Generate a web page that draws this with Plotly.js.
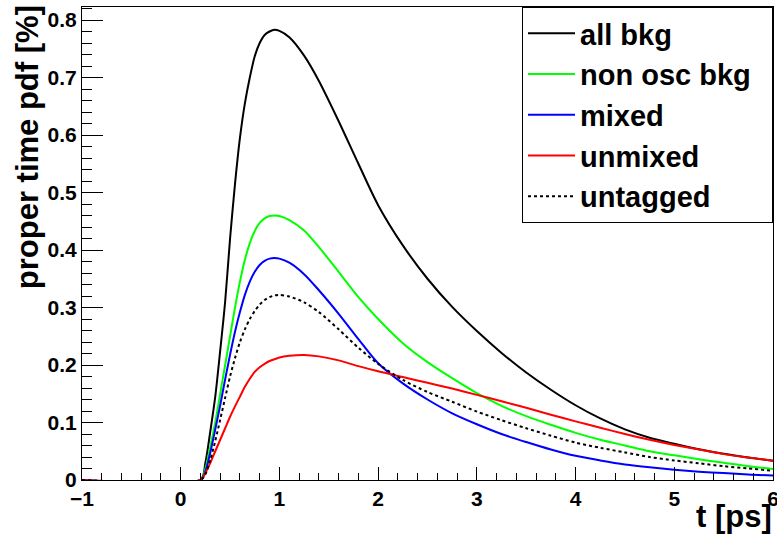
<!DOCTYPE html>
<html>
<head>
<meta charset="utf-8">
<script src="https://cdn.plot.ly/plotly-3.0.1.min.js"></script>
<style>html,body{margin:0;padding:0;background:#fff;}#chart{width:777px;height:537px;}</style>
</head>
<body>
<div id="chart"></div>
<script>
// proper time t [ps]
const tValues = [-1, 0.2, 0.25, 0.3, 0.35, 0.4, 0.45, 0.5, 0.55, 0.6, 0.65, 0.7, 0.75, 0.8, 0.85, 0.9, 0.95, 1.0, 1.1, 1.25, 1.4, 1.6, 1.8, 2.0, 2.25, 2.5, 2.75, 3.0, 3.25, 3.5, 3.75, 4.0, 4.25, 4.5, 4.75, 5.0, 5.25, 5.5, 5.75, 6.0];

const allBkg = [0, 0, 0.03, 0.085, 0.145, 0.225, 0.31, 0.42, 0.515, 0.595, 0.655, 0.70, 0.737, 0.760, 0.774, 0.780, 0.783, 0.781, 0.770, 0.738, 0.694, 0.624, 0.550, 0.478, 0.408, 0.350, 0.301, 0.259, 0.221, 0.187, 0.157, 0.130, 0.107, 0.088, 0.0735, 0.063, 0.0535, 0.0455, 0.039, 0.0335];

const nonOscBkg = [0, 0, 0.02, 0.058, 0.10, 0.15, 0.20, 0.25, 0.30, 0.345, 0.383, 0.412, 0.433, 0.447, 0.455, 0.459, 0.460, 0.459, 0.452, 0.434, 0.405, 0.362, 0.318, 0.280, 0.238, 0.205, 0.177, 0.151, 0.129, 0.111, 0.096, 0.082, 0.070, 0.060, 0.050, 0.043, 0.036, 0.030, 0.024, 0.019];

const mixed = [0, 0, 0.015, 0.048, 0.088, 0.13, 0.175, 0.218, 0.258, 0.292, 0.322, 0.345, 0.362, 0.374, 0.381, 0.385, 0.386, 0.385, 0.378, 0.358, 0.330, 0.289, 0.245, 0.203, 0.168, 0.140, 0.116, 0.097, 0.080, 0.066, 0.053, 0.042, 0.034, 0.027, 0.022, 0.018, 0.0145, 0.012, 0.0095, 0.0078];

const unmixed = [0, 0, 0.012, 0.03, 0.05, 0.07, 0.09, 0.11, 0.128, 0.145, 0.162, 0.176, 0.188, 0.196, 0.202, 0.207, 0.210, 0.213, 0.216, 0.2175, 0.215, 0.208, 0.198, 0.189, 0.179, 0.169, 0.159, 0.148, 0.137, 0.1255, 0.1135, 0.102, 0.091, 0.080, 0.070, 0.061, 0.053, 0.045, 0.039, 0.0335];

const untagged = [0, 0, 0.01, 0.035, 0.068, 0.105, 0.143, 0.18, 0.212, 0.24, 0.262, 0.280, 0.294, 0.305, 0.313, 0.318, 0.321, 0.322, 0.319, 0.309, 0.292, 0.262, 0.230, 0.202, 0.174, 0.153, 0.136, 0.119, 0.104, 0.090, 0.077, 0.065, 0.056, 0.048, 0.040, 0.034, 0.029, 0.024, 0.020, 0.0162];

const seriesNames = ["all bkg", "non osc bkg", "mixed", "unmixed", "untagged"];
const xTickVals = [-1, 0, 1, 2, 3, 4, 5, 6];
const yTickVals = [0, 0.1, 0.2, 0.3, 0.4, 0.5, 0.6, 0.7, 0.8];
const xTitle = "t [ps]";
const yTitle = "proper time pdf [%]";

const FONT = "Liberation Sans, Arial, Helvetica, sans-serif";
const X_RANGE = [-1, 6];
const Y_RANGE = [0, 0.8226];

function mk(y, name, color, dash) {
  return {
    x: tValues, y: y, name: name, type: "scatter", mode: "lines",
    line: {color: color, width: 2, dash: dash || "solid", shape: "spline", smoothing: 0.8}
  };
}

const data = [
  mk(allBkg, seriesNames[0], "#000000"),
  mk(nonOscBkg, seriesNames[1] + "\u00a0\u00a0", "#00ff00"),
  mk(mixed, seriesNames[2], "#0000ff"),
  mk(unmixed, seriesNames[3], "#ff0000"),
  mk(untagged, seriesNames[4], "#000000", "3px,3px")
];

const tickFont = {family: FONT, size: 21, color: "#000", weight: "bold"};

const layout = {
  width: 777, height: 537,
  margin: {l: 82, r: 4, t: 7, b: 57},
  showlegend: true,
  legend: {
    x: 1, xanchor: "right", y: 1, yanchor: "top",
    bgcolor: "#ffffff", bordercolor: "#000000", borderwidth: 1,
    font: {family: FONT, size: 29, color: "#000", weight: "bold"},
    itemwidth: 47
  },
  xaxis: {
    range: X_RANGE, tickvals: xTickVals,
    ticks: "inside", ticklen: 13, tickcolor: "#000",
    minor: {dtick: 0.2, ticks: "inside", ticklen: 7},
    showline: true, linecolor: "#000", mirror: true,
    showgrid: false, zeroline: false, ticklabeloverflow: "allow",
    tickfont: tickFont
  },
  yaxis: {
    range: Y_RANGE, tickvals: yTickVals,
    ticktext: yTickVals.map(v => v === 0 ? "0" : v.toFixed(1)),
    ticks: "inside", ticklen: 21, tickcolor: "#000",
    minor: {dtick: 0.02, ticks: "inside", ticklen: 10},
    showline: true, linecolor: "#000", mirror: true,
    showgrid: false, zeroline: false,
    tickfont: tickFont
  },
  annotations: [
    {text: xTitle, xref: "paper", yref: "paper", x: 1.002, y: -0.078, xanchor: "right", yanchor: "middle",
     showarrow: false, font: {family: FONT, size: 31, color: "#000", weight: "bold"}},
    {text: yTitle, xref: "paper", yref: "paper", x: -0.0796, y: 1.008, xanchor: "center", yanchor: "top",
     textangle: -90, showarrow: false, font: {family: FONT, size: 31, color: "#000", weight: "bold"}}
  ]
};

Plotly.newPlot("chart", data, layout, {displayModeBar: false});
</script>
</body>
</html>
